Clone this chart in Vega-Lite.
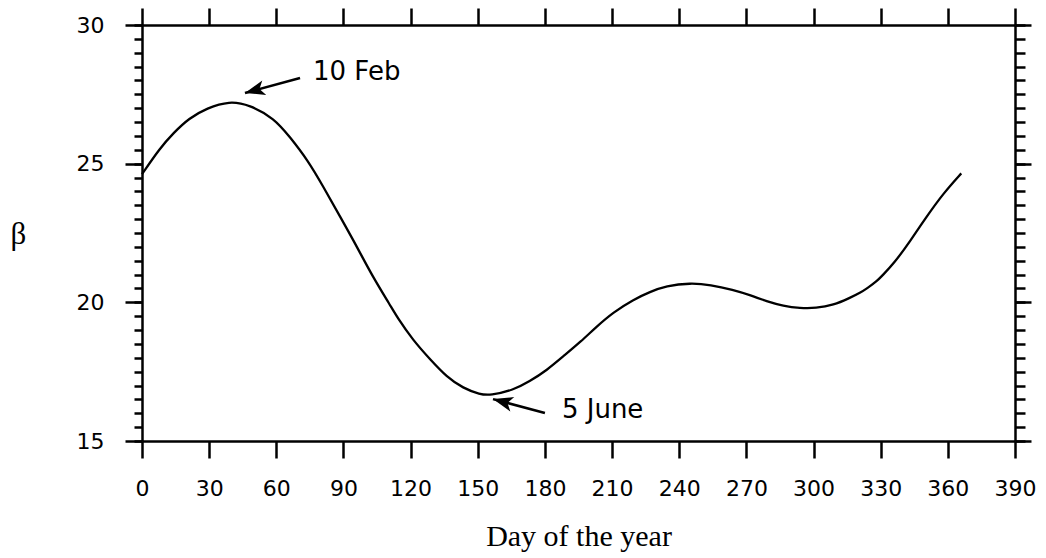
{
  "$schema": "https://vega.github.io/schema/vega-lite/v6.json",
  "width": 873,
  "height": 416,
  "autosize": "none",
  "padding": {"left": 142, "top": 25, "right": 31, "bottom": 117},
  "background": "white",
  "config": {
    "view": {"stroke": null},
    "axis": {"grid": false, "domainColor": "black", "tickColor": "black", "labelColor": "black", "titleColor": "black", "domainWidth": 2.5, "tickWidth": 2.5, "labelFlush": false, "labelOverlap": false}
  },
  "datasets": {
    "curve": [
      {"day": 0, "beta": 24.62}, {"day": 8, "beta": 25.56}, {"day": 14, "beta": 26.10}, {"day": 21, "beta": 26.64},
      {"day": 29, "beta": 27.00}, {"day": 39, "beta": 27.26}, {"day": 48, "beta": 27.12}, {"day": 59, "beta": 26.64},
      {"day": 66, "beta": 25.97}, {"day": 74, "beta": 25.13}, {"day": 81, "beta": 24.17}, {"day": 88.5, "beta": 23.09},
      {"day": 96, "beta": 22.01}, {"day": 103, "beta": 20.93}, {"day": 111, "beta": 19.88}, {"day": 114, "beta": 19.46},
      {"day": 121, "beta": 18.64}, {"day": 129, "beta": 17.92}, {"day": 136, "beta": 17.32}, {"day": 143.5, "beta": 16.90},
      {"day": 151, "beta": 16.68}, {"day": 155.5, "beta": 16.64}, {"day": 166, "beta": 16.84}, {"day": 173, "beta": 17.14},
      {"day": 181, "beta": 17.56}, {"day": 188, "beta": 18.04}, {"day": 196, "beta": 18.58}, {"day": 203, "beta": 19.12},
      {"day": 210.5, "beta": 19.64}, {"day": 219.5, "beta": 20.10}, {"day": 227, "beta": 20.38}, {"day": 234, "beta": 20.59},
      {"day": 245, "beta": 20.70}, {"day": 254, "beta": 20.63}, {"day": 264, "beta": 20.45}, {"day": 272, "beta": 20.25},
      {"day": 279, "beta": 20.04}, {"day": 286.5, "beta": 19.87}, {"day": 294, "beta": 19.79}, {"day": 301, "beta": 19.79},
      {"day": 309, "beta": 19.90}, {"day": 316, "beta": 20.15}, {"day": 321, "beta": 20.35}, {"day": 324, "beta": 20.51},
      {"day": 328, "beta": 20.74}, {"day": 331, "beta": 20.99}, {"day": 336, "beta": 21.41}, {"day": 343, "beta": 22.19},
      {"day": 350.5, "beta": 23.09}, {"day": 358, "beta": 23.93}, {"day": 366, "beta": 24.65}
    ],
    "notes": [
      {"label": "10 Feb", "tx": 76.4, "ty": 28.02, "x1": 70.6, "y1": 28.09, "x2": 46.0, "y2": 27.55},
      {"label": "5 June", "tx": 187.6, "ty": 15.83, "x1": 180.0, "y1": 16.01, "x2": 156.8, "y2": 16.51}
    ]
  },
  "layer": [
    {
      "data": {"name": "curve"},
      "mark": {"type": "line", "color": "black", "strokeWidth": 2.3, "interpolate": "basis"},
      "encoding": {
        "x": {"field": "day", "type": "quantitative", "scale": {"domain": [0, 390], "nice": false, "zero": false},
          "axis": {"orient": "bottom", "values": [0, 30, 60, 90, 120, 150, 180, 210, 240, 270, 300, 330, 360, 390], "tickSize": 17, "labelPadding": 20, "labelFont": "DejaVu Sans", "labelFontSize": 22, "title": "Day of the year", "titleFont": "Liberation Serif", "titleFontSize": 30, "titleFontWeight": "normal", "titlePadding": 22}},
        "y": {"field": "beta", "type": "quantitative", "scale": {"domain": [15, 30], "nice": false, "zero": false},
          "axis": {"orient": "left", "values": [15, 20, 25, 30], "tickSize": 17, "labelPadding": 21, "labelFont": "DejaVu Sans", "labelFontSize": 22, "title": "β", "titleAngle": 0, "titleX": -124, "titleY": 218, "titleAlign": "center", "titleBaseline": "alphabetic", "titleFont": "Liberation Serif", "titleFontSize": 31, "titleFontWeight": "normal"}}
      }
    },
    {
      "data": {"name": "notes"},
      "mark": {"type": "rule", "color": "black", "strokeWidth": 2.5},
      "encoding": {
        "x": {"field": "x1", "type": "quantitative", "scale": {"domain": [0, 390], "nice": false, "zero": false},
          "axis": {"orient": "top", "values": [0, 30, 60, 90, 120, 150, 180, 210, 240, 270, 300, 330, 360, 390], "tickSize": 17, "labels": false, "title": null}},
        "y": {"field": "y1", "type": "quantitative", "scale": {"domain": [15, 30], "nice": false, "zero": false},
          "axis": {"orient": "right", "values": [15, 20, 25, 30], "tickSize": 16, "labels": false, "title": null}},
        "x2": {"field": "x2"},
        "y2": {"field": "y2"}
      }
    },
    {
      "data": {"name": "notes"},
      "transform": [{"filter": "datum.label == '10 Feb'"}],
      "mark": {"type": "point", "shape": "M0,0 L-2,-0.75 L-1.5,0 L-2,0.75 Z", "filled": true, "color": "black", "opacity": 1, "size": 400, "angle": 164.7},
      "encoding": {
        "x": {"field": "x2", "type": "quantitative", "scale": {"domain": [0, 390], "nice": false, "zero": false}, "axis": null},
        "y": {"field": "y2", "type": "quantitative", "scale": {"domain": [15, 30], "nice": false, "zero": false},
          "axis": {"orient": "left", "values": [15, 15.5, 16, 16.5, 17, 17.5, 18, 18.5, 19, 19.5, 20, 20.5, 21, 21.5, 22, 22.5, 23, 23.5, 24, 24.5, 25, 25.5, 26, 26.5, 27, 27.5, 28, 28.5, 29, 29.5, 30], "tickSize": 8, "labels": false, "domain": false, "title": null}}
      }
    },
    {
      "data": {"name": "notes"},
      "transform": [{"filter": "datum.label == '5 June'"}],
      "mark": {"type": "point", "shape": "M0,0 L-2,-0.75 L-1.5,0 L-2,0.75 Z", "filled": true, "color": "black", "opacity": 1, "size": 400, "angle": 195.1},
      "encoding": {
        "x": {"field": "x2", "type": "quantitative", "scale": {"domain": [0, 390], "nice": false, "zero": false}, "axis": null},
        "y": {"field": "y2", "type": "quantitative", "scale": {"domain": [15, 30], "nice": false, "zero": false},
          "axis": {"orient": "right", "values": [15, 15.5, 16, 16.5, 17, 17.5, 18, 18.5, 19, 19.5, 20, 20.5, 21, 21.5, 22, 22.5, 23, 23.5, 24, 24.5, 25, 25.5, 26, 26.5, 27, 27.5, 28, 28.5, 29, 29.5, 30], "tickSize": 10, "labels": false, "domain": false, "title": null}}
      }
    },
    {
      "data": {"name": "notes"},
      "mark": {"type": "text", "align": "left", "baseline": "alphabetic", "font": "DejaVu Sans", "fontSize": 26, "color": "black"},
      "encoding": {
        "x": {"field": "tx", "type": "quantitative", "scale": {"domain": [0, 390], "nice": false, "zero": false}, "axis": null},
        "y": {"field": "ty", "type": "quantitative", "scale": {"domain": [15, 30], "nice": false, "zero": false}, "axis": null},
        "text": {"field": "label"}
      }
    }
  ],
  "resolve": {"axis": {"x": "independent", "y": "independent"}}
}
